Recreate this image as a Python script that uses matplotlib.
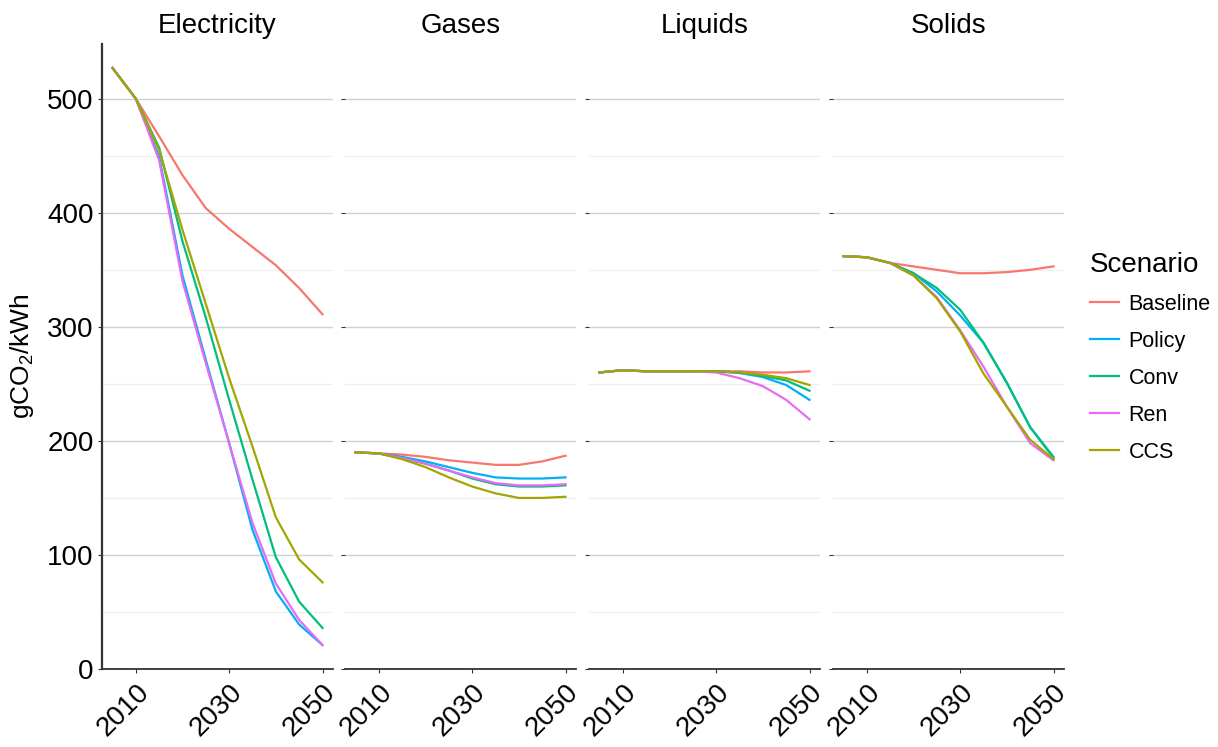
import numpy as np
import matplotlib
matplotlib.use("Agg")
import matplotlib.pyplot as plt
from matplotlib.ticker import MultipleLocator
from matplotlib.lines import Line2D

plt.rcParams['font.family'] = ['Liberation Sans', 'DejaVu Sans']
plt.rcParams['mathtext.default'] = 'regular'

years = [2005, 2010, 2015, 2020, 2025, 2030, 2035, 2040, 2045, 2050]
carriers = ["Electricity", "Gases", "Liquids", "Solids"]
scenarios = ["Baseline", "Policy", "Conv", "Ren", "CCS"]
colors = ["#F8766D", "#00B0F6", "#00BF7D", "#E76BF3", "#A3A500"]

# gCO2/kWh per carrier, one list per scenario
electricity = {
    "Baseline": [527, 500, 467, 433, 404, 386, 370, 354, 334, 311],
    "Policy":   [527, 500, 449, 345, 271, 198, 122, 68, 39, 21],
    "Conv":     [527, 500, 457, 375, 308, 236, 166, 98, 59, 36],
    "Ren":      [527, 500, 446, 340, 268, 198, 128, 75, 43, 21],
    "CCS":      [527, 500, 455, 385, 320, 255, 195, 133, 96, 76],
}
gases = {
    "Baseline": [190, 189, 188, 186, 183, 181, 179, 179, 182, 187],
    "Policy":   [190, 189, 186, 182, 177, 172, 168, 167, 167, 168],
    "Conv":     [190, 189, 185, 180, 174, 167, 162, 160, 160, 161],
    "Ren":      [190, 189, 185, 180, 174, 168, 163, 161, 161, 162],
    "CCS":      [190, 189, 184, 177, 168, 160, 154, 150, 150, 151],
}
liquids = {
    "Baseline": [260, 262, 261, 261, 261, 261, 261, 260, 260, 261],
    "Policy":   [260, 262, 261, 261, 261, 261, 259.5, 256, 249, 236],
    "Conv":     [260, 262, 261, 261, 261, 261, 260, 257, 253, 244],
    "Ren":      [260, 262, 261, 261, 261, 260, 255, 248, 236, 219],
    "CCS":      [260, 262, 261, 261, 261, 261, 260, 258, 255, 249],
}
solids = {
    "Baseline": [362, 361, 356, 353, 350, 347, 347, 348, 350, 353],
    "Policy":   [362, 361, 356, 347, 331, 310, 286, 251, 212, 186],
    "Conv":     [362, 361, 356, 347, 334, 315, 286, 251, 212, 185],
    "Ren":      [362, 361, 356, 345, 326, 297, 265, 230, 198, 183],
    "CCS":      [362, 361, 356, 345, 325, 296, 259, 230, 201, 184],
}
panels = [electricity, gases, liquids, solids]

W, H = 1218, 747
fig = plt.figure(figsize=(W / 100, H / 100), dpi=100)

lefts = [102, 345, 589, 833]
pw = 231
top, bottom = 44, 669

for i, (name, data) in enumerate(zip(carriers, panels)):
    ax = fig.add_axes([lefts[i] / W, 1 - bottom / H, pw / W, (bottom - top) / H])
    for sc, col in zip(scenarios, colors):
        ax.plot(years, data[sc], color=col, lw=1.6, zorder=3)
    ax.set_xlim(2002.75, 2052.25)
    ax.set_ylim(0, 548)
    ax.yaxis.set_major_locator(MultipleLocator(100))
    ax.yaxis.set_minor_locator(MultipleLocator(50))
    ax.set_xticks([2010, 2030, 2050])
    ax.grid(which='major', axis='y', color='#d0d0d0', lw=1.0)
    ax.grid(which='minor', axis='y', color='#efefef', lw=0.9)
    ax.set_axisbelow(True)
    for s in ['top', 'right']:
        ax.spines[s].set_visible(False)
    ax.spines['bottom'].set_color('#333333')
    ax.spines['bottom'].set_linewidth(1.3)
    ax.tick_params(axis='x', length=3, color='#333333', labelsize=20, pad=4)
    ax.tick_params(axis='y', which='major', length=3, color='#333333', labelsize=20, pad=3)
    ax.tick_params(axis='y', which='minor', length=0)
    for lab in ax.get_xticklabels():
        lab.set_rotation(45)
        lab.set_ha('right')
        lab.set_va('top')
        lab.set_rotation_mode('anchor')
    if i == 0:
        ax.spines['left'].set_color('#333333')
        ax.spines['left'].set_linewidth(1.6)
        ax.set_ylabel("gCO$_2$/kWh", fontsize=19, labelpad=8)
    else:
        ax.spines['left'].set_visible(False)
        ax.tick_params(axis='y', labelleft=False)
    ax.set_title(name, fontsize=20, pad=8)

handles = [Line2D([], [], color=c, lw=1.6) for c in colors]
fig.legend(handles, scenarios, title="Scenario", loc='upper left',
           bbox_to_anchor=(1090 / W, 1 - 252 / H), frameon=False,
           fontsize=15.5, title_fontsize=20, handlelength=1.35,
           labelspacing=0.74, handletextpad=0.45, alignment='left',
           borderpad=0, borderaxespad=0)
fig.legends[0]._legend_handle_box.sep = 2

fig.savefig("out.png", dpi=100)
